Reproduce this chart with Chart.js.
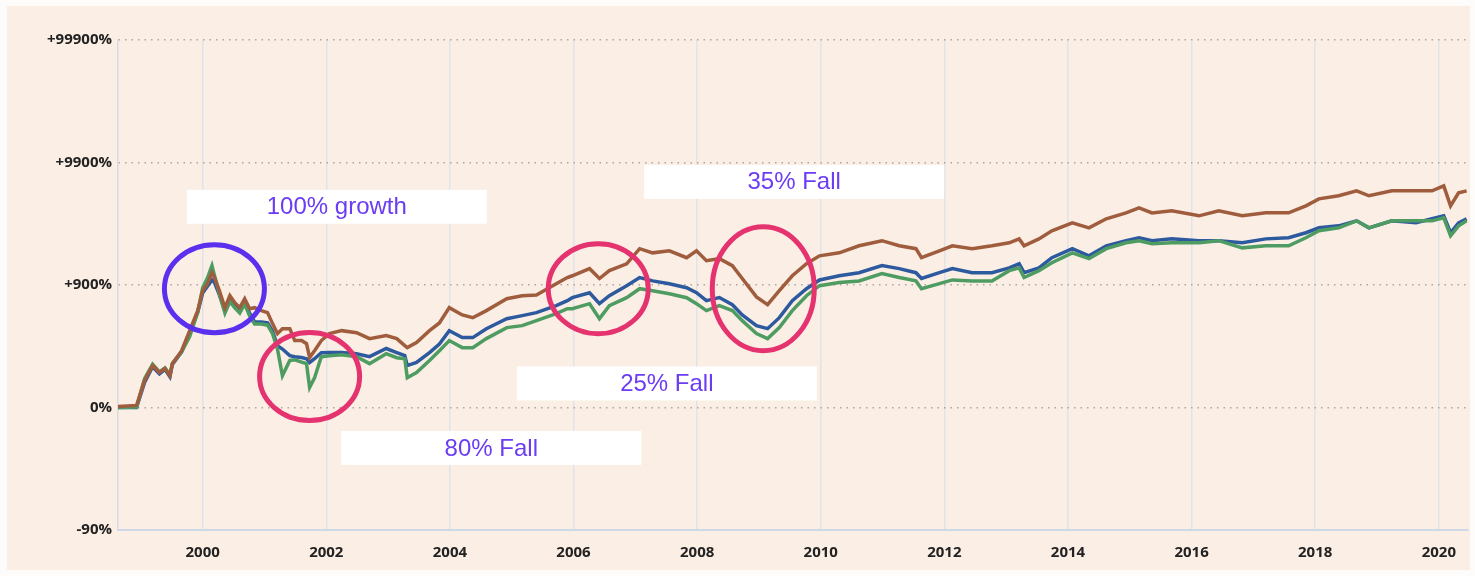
<!DOCTYPE html>
<html>
<head>
<meta charset="utf-8">
<script src="https://cdn.jsdelivr.net/npm/chart.js@4.4.1/dist/chart.umd.min.js"></script>
<style>
  html, body { margin: 0; padding: 0; background: #fefcfa; }
  #panel { position: absolute; left: 7px; top: 6px; width: 1463px; height: 564px; background: #fbeee5; }
  canvas { display: block; }
</style>
</head>
<body>
<div id="panel"><canvas id="growthChart" width="1463" height="564"></canvas></div>
<script>
// dates as decimal years
const years = [
  1998.63,1998.93,1999.06,1999.19,1999.30,1999.39,1999.47,1999.51,1999.66,1999.79,
  1999.92,2000.00,2000.08,2000.15,2000.19,2000.27,2000.36,2000.44,2000.52,2000.60,
  2000.68,2000.76,2000.84,2000.95,2001.05,2001.13,2001.21,2001.29,2001.41,2001.49,
  2001.60,2001.68,2001.73,2001.81,2001.92,2002.05,2002.25,2002.49,2002.70,2002.97,
  2003.14,2003.27,2003.31,2003.46,2003.67,2003.83,2003.99,2004.20,2004.37,2004.59,
  2004.92,2005.17,2005.40,2005.72,2005.90,2005.98,2006.26,2006.42,2006.58,2006.86,
  2007.07,2007.28,2007.55,2007.83,2007.99,2008.15,2008.36,2008.57,2008.73,2008.96,
  2009.14,2009.33,2009.54,2009.77,2009.98,2010.30,2010.62,2010.99,2011.27,2011.54,
  2011.63,2011.92,2012.13,2012.45,2012.77,2013.05,2013.21,2013.29,2013.53,2013.74,
  2014.07,2014.34,2014.62,2014.94,2015.15,2015.36,2015.68,2016.12,2016.44,2016.82,
  2017.20,2017.57,2017.85,2018.06,2018.38,2018.67,2018.87,2019.24,2019.63,2019.89,
  2020.08,2020.19,2020.32,2020.45
];

// growth of 1 invested (1 = 0%, 10 = +900% ...)
const brownSeries = [
  1.02,1.04,1.66,2.20,1.93,2.08,1.82,2.28,2.91,4.24,
  6.18,8.99,10.25,12.6,11.5,8.99,6.53,8.18,7.17,6.53,
  7.73,6.41,6.53,6.18,5.95,4.84,4.01,4.40,4.40,3.52,
  3.52,3.32,2.56,2.91,3.52,4.01,4.24,4.08,3.65,3.86,
  3.65,3.20,3.08,3.39,4.24,4.90,6.53,5.70,5.41,6.18,
  7.73,8.18,8.30,10.25,11.5,11.9,13.6,11.3,13.1,14.9,
  19.8,18.3,19.0,16.7,19.0,15.8,16.4,14.4,11.3,8.0,
  6.9,8.99,11.9,14.9,17.3,18.3,20.9,23.0,20.9,19.8,
  16.7,19.0,20.9,19.8,20.9,22.1,23.8,20.9,23.8,27.7,
  32.2,29.3,34.7,38.8,42.7,38.8,40.3,36.7,40.3,36.7,
  38.8,38.8,44.3,50.5,53.5,58.7,53.5,58.7,58.7,58.7,
  64.5,44.3,56.5,58.7
];
const blueSeries = [
  1.00,1.00,1.60,2.15,1.88,2.05,1.78,2.25,2.85,4.10,
  6.00,8.60,9.80,11.0,10.5,8.30,6.10,7.50,6.80,6.20,
  7.20,5.90,5.00,5.00,4.90,4.20,3.20,3.00,2.65,2.60,
  2.56,2.50,2.33,2.50,2.80,2.81,2.81,2.75,2.60,3.03,
  2.81,2.65,2.20,2.33,2.81,3.30,4.24,3.72,3.72,4.40,
  5.31,5.62,5.95,6.78,7.45,7.88,8.65,7.04,8.18,9.87,
  11.5,10.8,10.25,9.50,8.65,7.45,7.90,6.90,5.70,4.66,
  4.40,5.41,7.45,9.33,11.0,11.9,12.6,14.4,13.6,12.6,
  11.3,12.6,13.6,12.6,12.6,13.8,14.9,12.6,13.8,16.7,
  19.8,17.3,20.9,23.0,24.3,23.0,23.8,23.0,23.0,22.1,
  23.8,24.3,26.7,29.3,30.4,33.4,29.3,33.4,32.2,34.7,
  36.7,26.7,32.2,34.7
];
const greenSeries = [
  1.00,1.01,1.72,2.25,1.95,2.10,1.85,2.30,2.85,3.80,
  6.00,9.50,11.5,14.4,12.0,8.50,5.90,7.30,6.50,5.90,
  7.00,5.60,4.80,4.80,4.70,4.00,3.00,1.82,2.42,2.45,
  2.35,2.28,1.46,1.75,2.60,2.65,2.70,2.60,2.28,2.75,
  2.55,2.50,1.75,1.93,2.42,2.91,3.52,3.08,3.08,3.65,
  4.49,4.66,5.12,5.83,6.41,6.41,7.04,5.31,6.78,7.88,
  9.33,8.99,8.49,7.88,7.04,6.18,6.80,6.18,5.12,4.01,
  3.65,4.49,6.18,8.18,9.87,10.5,10.8,12.4,11.5,10.8,
  9.33,10.25,11.0,10.8,10.8,13.1,13.8,11.5,13.1,15.2,
  18.3,16.4,19.8,22.1,23.0,21.7,22.1,22.1,23.0,20.1,
  20.9,20.9,24.3,27.7,29.3,33.4,29.3,33.4,33.4,33.4,
  35.3,25.2,30.4,33.4
];

const xTickYears = [2000, 2002, 2004, 2006, 2008, 2010, 2012, 2014, 2016, 2018, 2020];
const yTickValues = [0.1, 1, 10, 100, 1000];
const yTickLabels = ['-90%', '0%', '+900%', '+9900%', '+99900%'];

// call-outs, placed in data space
const labelBoxes = [
  { text: '100% growth', year: 2002.17, value: 43.5 },
  { text: '35% Fall', year: 2009.57, value: 69.5 },
  { text: '25% Fall', year: 2007.51, value: 1.57 },
  { text: '80% Fall', year: 2004.67, value: 0.468 }
];
const rings = [
  { year: 2000.19, value: 9.33, rx: 50, ry: 44, color: '#5a2fee' },
  { year: 2001.73, value: 1.79, rx: 50, ry: 44, color: '#e4336f' },
  { year: 2006.40, value: 9.33, rx: 50, ry: 45, color: '#e4336f' },
  { year: 2009.07, value: 9.33, rx: 51, ry: 62, color: '#e4336f' }
];

const toPoints = arr => arr.map((v, i) => ({ x: years[i], y: v }));

const annotatePlugin = {
    id: 'annotate',
    afterDatasetsDraw(chart) {
        const { ctx, scales: { x, y } } = chart;
        ctx.save();
        labelBoxes.forEach(b => {
            const cx = x.getPixelForValue(b.year);
            const cy = y.getPixelForValue(b.value);
            ctx.fillStyle = '#ffffff';
            ctx.fillRect(cx - 150, cy - 17, 300, 34);
            ctx.fillStyle = '#6b3cf4';
            ctx.font = '24px "Liberation Sans", Arial, sans-serif';
            ctx.textAlign = 'center';
            ctx.textBaseline = 'middle';
            ctx.fillText(b.text, cx, cy + 1);
        });
        rings.forEach(r => {
            ctx.beginPath();
            ctx.ellipse(x.getPixelForValue(r.year), y.getPixelForValue(r.value), r.rx, r.ry, 0, 0, Math.PI * 2);
            ctx.lineWidth = 5;
            ctx.strokeStyle = r.color;
            ctx.stroke();
        });
        ctx.restore();
    }
};

const tickFont = { family: '"Open Sans", "DejaVu Sans", sans-serif', size: 15, weight: 'bold' };

const ctx = document.getElementById('growthChart').getContext('2d');
const growthChart = new Chart(ctx, {
    type: 'line',
    data: {
        datasets: [
            { label: 'Brown', data: toPoints(brownSeries), borderColor: '#a05d3e' },
            { label: 'Green', data: toPoints(greenSeries), borderColor: '#4f9c62' },
            { label: 'Blue', data: toPoints(blueSeries), borderColor: '#2d5a9e' }
        ]
    },
    options: {
        responsive: false,
        animation: false,
        layout: { padding: { top: 34, right: 2, left: 0, bottom: 0 } },
        elements: {
            point: { radius: 0 },
            line: { borderWidth: 3.5, tension: 0, fill: false }
        },
        plugins: {
            legend: { display: false },
            tooltip: { enabled: false }
        },
        scales: {
            x: {
                type: 'linear',
                min: 1998.63,
                max: 2020.47,
                afterBuildTicks: axis => { axis.ticks = xTickYears.map(v => ({ value: v })); },
                afterFit: axis => { axis.height = 40; },
                grid: { color: '#e0e3e8', lineWidth: 1.5, drawTicks: false },
                border: { display: true, color: '#cdd9e8', width: 2 },
                ticks: {
                    padding: 14,
                    color: '#222',
                    font: tickFont,
                    maxRotation: 0,
                    autoSkip: false,
                    callback: v => String(v)
                }
            },
            y: {
                type: 'logarithmic',
                min: 0.1,
                max: 1000,
                afterBuildTicks: axis => { axis.ticks = yTickValues.map(v => ({ value: v })); },
                afterFit: axis => { axis.width = 111; },
                grid: { color: '#aca6a1', lineWidth: 1.5, drawTicks: false },
                border: { display: true, color: '#d8dbe0', width: 1.5, dash: [1.5, 5] },
                ticks: {
                    padding: 6,
                    color: '#222',
                    font: tickFont,
                    autoSkip: false,
                    callback: (v, i) => yTickLabels[i]
                }
            }
        }
    },
    plugins: [annotatePlugin]
});
</script>
</body>
</html>
